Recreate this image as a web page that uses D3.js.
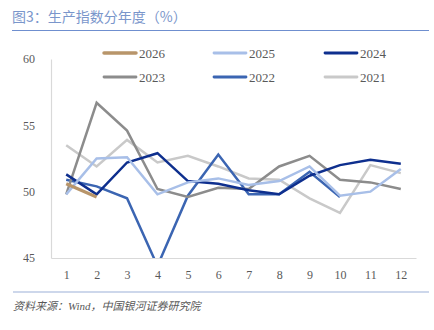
<!DOCTYPE html>
<html><head><meta charset="utf-8">
<script src="https://cdn.jsdelivr.net/npm/d3@7"></script>
<style>body{margin:0;background:#fff;}svg{display:block;}</style>
</head><body>
<script>
const months = ["1","2","3","4","5","6","7","8","9","10","11","12"];
const yTicks = [45, 50, 55, 60];
const s2026 = [50.6, 49.6];
const s2025 = [49.8, 52.5, 52.6, 49.8, 50.7, 51.0, 50.5, 50.8, 51.9, 49.7, 50.0, 51.7];
const s2024 = [51.3, 49.8, 52.2, 52.9, 50.8, 50.6, 50.1, 49.8, 51.2, 52.0, 52.4, 52.1];
const s2023 = [49.8, 56.7, 54.6, 50.2, 49.6, 50.3, 50.2, 51.9, 52.7, 50.9, 50.7, 50.2];
const s2022 = [50.9, 50.4, 49.5, 44.4, 49.7, 52.8, 49.8, 49.8, 51.5, 49.6];
const s2021 = [53.5, 51.9, 53.9, 52.2, 52.7, 51.9, 51.0, 50.9, 49.5, 48.4, 52.0, 51.4];
const seriesNames = ["2026","2025","2024","2023","2022","2021"];
const seriesData = [s2026, s2025, s2024, s2023, s2022, s2021];
const colors = ["#b8956a","#a8bfe8","#0e2f8e","#8c8c8c","#3b65b2","#c9c9c9"];
const widths = [3.2, 2.5, 2.5, 2.5, 2.5, 2.5];

const W = 434, H = 330;
const svg = d3.select("body").append("svg").attr("width", W).attr("height", H);
const serif = "'Liberation Serif','DejaVu Serif',serif";
const cjk = "'Noto Sans CJK SC','Noto Sans',sans-serif";

// title
svg.append("text").attr("x", 12).attr("y", 22).attr("font-family", cjk)
  .attr("font-size", 14).attr("fill", "#7a96cb").text("图3：生产指数分年度（%）");
svg.append("line").attr("x1", 12).attr("x2", 429).attr("y1", 30.5).attr("y2", 30.5)
  .attr("stroke", "#6f8fcf").attr("stroke-width", 1.2);

const x = d3.scalePoint().domain(months).range([51, 416]).padding(0.5);
const y = d3.scaleLinear().domain([45, 60]).range([258, 59]);

// axes
const yAxis = svg.append("g").attr("transform", "translate(51,0)")
  .call(d3.axisLeft(y).tickValues(yTicks).tickSize(0).tickPadding(16));
yAxis.select(".domain").attr("stroke", "#d9d9d9").attr("stroke-width", 1.2);
yAxis.selectAll("text").attr("font-family", serif).attr("font-size", 12).attr("fill", "#595959");

const xAxis = svg.append("g").attr("transform", "translate(0,258)")
  .call(d3.axisBottom(x).tickSize(0).tickPadding(12));
xAxis.select(".domain").attr("stroke", "#d9d9d9").attr("stroke-width", 1.2);
xAxis.selectAll("text").attr("font-family", serif).attr("font-size", 12).attr("fill", "#595959");

svg.append("clipPath").attr("id", "clip").append("rect")
  .attr("x", 40).attr("y", 40).attr("width", 390).attr("height", 218);

const line = d3.line().x((d, i) => x(months[i])).y(d => y(d));
const g = svg.append("g").attr("clip-path", "url(#clip)");
for (let k = seriesData.length - 1; k >= 0; k--) {
  g.append("path").datum(seriesData[k]).attr("d", line)
    .attr("fill", "none").attr("stroke", colors[k]).attr("stroke-width", widths[k])
    .attr("stroke-linejoin", "miter");
}

// legend
const legX = [104, 214, 325], legY = [53, 77];
seriesNames.forEach((n, i) => {
  const cx = legX[i % 3], cy = legY[Math.floor(i / 3)];
  svg.append("line").attr("x1", cx).attr("x2", cx + 32).attr("y1", cy).attr("y2", cy)
    .attr("stroke", colors[i]).attr("stroke-width", i === 0 ? 3.5 : 2.8).attr("stroke-linecap", "round");
  svg.append("text").attr("x", cx + 35).attr("y", cy + 4.5).attr("font-family", serif)
    .attr("font-size", 13).attr("fill", "#595959").text(n);
});

// footer
svg.append("line").attr("x1", 13).attr("x2", 429).attr("y1", 292).attr("y2", 292)
  .attr("stroke", "#9bb0d8").attr("stroke-width", 1.2);
svg.append("text").attr("x", 13).attr("y", 310).attr("font-family", "'Liberation Serif','Noto Sans CJK SC',serif")
  .attr("font-size", 11).attr("font-style", "italic").attr("fill", "#595959")
  .text("资料来源：Wind，中国银河证券研究院");
</script>
</body></html>
